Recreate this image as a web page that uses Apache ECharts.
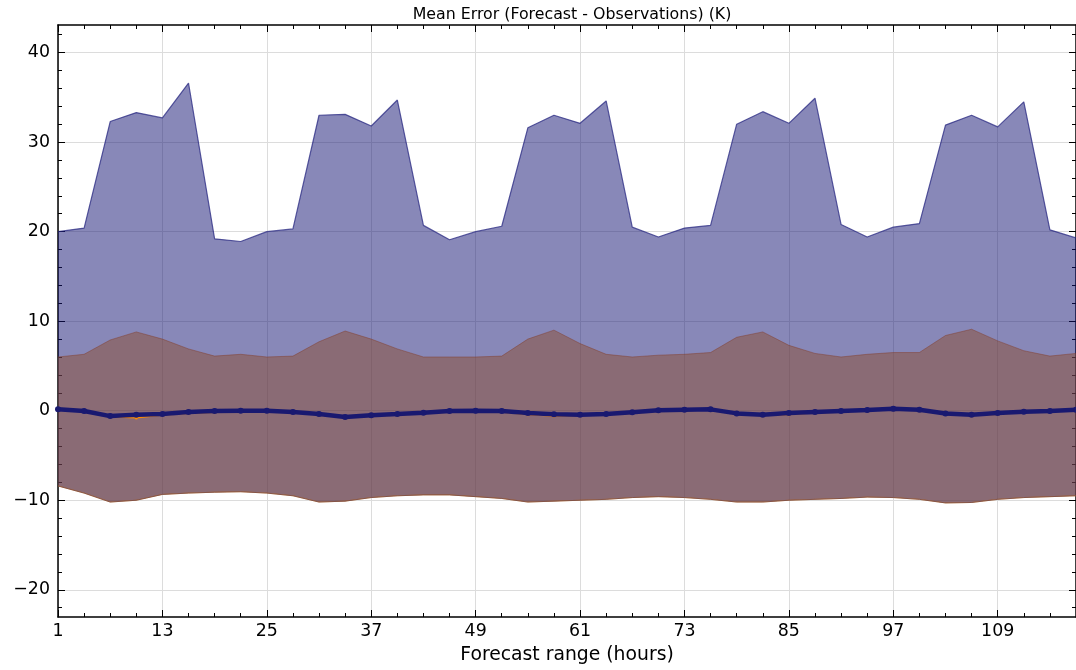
<!DOCTYPE html>
<html>
<head>
<meta charset="utf-8">
<script src="https://cdn.jsdelivr.net/npm/echarts@6/dist/echarts.min.js"></script>
<style>
html,body{margin:0;padding:0;background:#fff;}
#chart{width:1076px;height:670px;}
</style>
</head>
<body>
<div id="chart"></div>
<script>
// Forecast range (hours)
const hours = [1,4,7,10,13,16,19,22,25,28,31,34,37,40,43,46,49,52,55,58,61,64,67,70,73,76,79,82,85,88,91,94,97,100,103,106,109,112,115,118];
// Tick labels
const xTickLabels = [1,13,25,37,49,61,73,85,97,109];
const xMinorTicks = [1,4,7,10,13,16,19,22,25,28,31,34,37,40,43,46,49,52,55,58,61,64,67,70,73,76,79,82,85,88,91,94,97,100,103,106,109,112,115];
const yTickLabels = [-20,-10,0,10,20,30,40];
const yMinorTicks = [-22,-20,-18,-16,-14,-12,-10,-8,-6,-4,-2,0,2,4,6,8,10,12,14,16,18,20,22,24,26,28,30,32,34,36,38,40,42];
// Upper edge of the blue band
const blueUpper = [20.0,20.4,32.3,33.3,32.7,36.6,19.2,18.9,20.0,20.3,33.0,33.1,31.8,34.7,20.7,19.1,20.0,20.6,31.6,33.0,32.1,34.6,20.5,19.4,20.4,20.7,32.0,33.4,32.1,34.9,20.8,19.4,20.5,20.9,31.9,33.0,31.7,34.5,20.2,19.3];
// Upper edge of the red band
const redUpper = [6.0,6.3,7.9,8.8,8.0,6.9,6.1,6.3,6.0,6.1,7.7,8.9,8.0,6.9,6.0,6.0,6.0,6.1,8.0,9.0,7.5,6.3,6.0,6.2,6.3,6.5,8.2,8.8,7.3,6.4,6.0,6.3,6.5,6.5,8.4,9.1,7.8,6.7,6.1,6.4];
// Lower edge of both bands
const bandLower = [-8.4,-9.2,-10.2,-10.0,-9.35,-9.2,-9.1,-9.05,-9.2,-9.5,-10.2,-10.1,-9.7,-9.5,-9.4,-9.4,-9.6,-9.8,-10.2,-10.1,-10.0,-9.9,-9.7,-9.6,-9.7,-9.9,-10.2,-10.2,-10.0,-9.9,-9.8,-9.65,-9.7,-9.9,-10.3,-10.25,-9.9,-9.7,-9.6,-9.5];
// Mean error lines
const meanNavy = [0.15,-0.03,-0.6,-0.45,-0.37,-0.15,-0.03,0,0,-0.15,-0.37,-0.7,-0.5,-0.37,-0.22,-0.04,0,-0.04,-0.26,-0.4,-0.45,-0.37,-0.18,0.04,0.1,0.15,-0.3,-0.45,-0.26,-0.15,-0.04,0.07,0.22,0.1,-0.3,-0.45,-0.26,-0.11,-0.04,0.1];
const meanOrange = [0.1,-0.1,-0.7,-0.8,-0.5,-0.3,-0.2,-0.1,-0.1,-0.2,-0.5,-0.8,-0.6,-0.5,-0.3,-0.15,-0.1,-0.15,-0.45,-0.6,-0.55,-0.45,-0.3,-0.05,0.0,0.05,-0.4,-0.55,-0.45,-0.25,-0.15,0.0,0.1,0.0,-0.4,-0.55,-0.4,-0.2,-0.1,0.05];

const FONT = '"DejaVu Sans", sans-serif';
const pts = arr => hours.map((h, i) => [h, arr[i]]);
const fmtY = v => (v < 0 ? '\u2212' + Math.abs(v) : String(v));

const XMIN = 1, XMAX = 118, YMIN = -23.04, YMAX = 43.08;
const spine = {show: true, onZero: false, lineStyle: {color: '#000', width: 1.5}};
const noLine = {show: false, onZero: false};
const gridLine = {show: true, lineStyle: {color: '#dcdcdc', width: 1}};

function axis(kind, pos, ticks, len, labels, line) {
  const lo = kind === 'x' ? XMIN : YMIN, hi = kind === 'x' ? XMAX : YMAX;
  return {
    type: 'value', position: pos, min: lo, max: hi,
    axisLine: line ? spine : noLine,
    axisTick: {show: true, inside: true, length: len, customValues: ticks, lineStyle: {color: '#000', width: 1}},
    axisLabel: labels ? {
      show: true, margin: kind === 'x' ? 6 : 8, color: '#000', fontSize: 17.4, fontFamily: FONT,
      customValues: ticks,
      formatter: v => (kind === 'x' ? String(v) : fmtY(v))
    } : {show: false},
    splitLine: labels ? gridLine : {show: false}
  };
}

const xAxes = [
  Object.assign(axis('x', 'bottom', xTickLabels, 7, true, true), {
    name: 'Forecast range (hours)', nameLocation: 'middle', nameGap: 29,
    nameTextStyle: {color: '#000', fontSize: 18.8, fontFamily: FONT}
  }),
  axis('x', 'bottom', xMinorTicks, 4, false, false),
  axis('x', 'top', xTickLabels, 7, false, true),
  axis('x', 'top', xMinorTicks, 4, false, false)
];
const yAxes = [
  axis('y', 'left', yTickLabels, 7, true, true),
  axis('y', 'left', yMinorTicks, 4, false, false),
  axis('y', 'right', yTickLabels, 7, false, true),
  axis('y', 'right', yMinorTicks, 4, false, false)
];

function band(upper, lower, fill, z) {
  return {
    type: 'custom', silent: true, z: z, clip: true,
    data: [[hours[0], lower[0]]],
    renderItem: (params, api) => {
      const top = hours.map((h, i) => api.coord([h, upper[i]]));
      const bot = hours.map((h, i) => api.coord([h, lower[i]])).reverse();
      return {type: 'polygon', shape: {points: top.concat(bot)}, style: {fill: fill, stroke: null}};
    }
  };
}
function edge(arr, color, width, z) {
  return {type: 'line', data: pts(arr), symbol: 'none', silent: true,
          lineStyle: {color: color, width: width}, z: z};
}

const chart = echarts.init(document.getElementById('chart'), null, {renderer: 'canvas'});
chart.setOption({
  animation: false,
  backgroundColor: '#fff',
  title: {
    text: 'Mean Error (Forecast - Observations) (K)',
    left: 567, top: 2, textAlign: 'center',
    textStyle: {color: '#000', fontSize: 15.8, fontWeight: 'normal', fontFamily: FONT}
  },
  grid: {left: 58, top: 25, width: 1019, height: 594},
  xAxis: xAxes,
  yAxis: yAxes,
  series: [
    band(blueUpper, bandLower, 'rgba(17,17,113,0.5)', 2),
    band(redUpper, bandLower, 'rgba(140,78,50,0.5)', 3),
    edge(blueUpper, 'rgba(40,40,130,0.75)', 1.2, 4),
    edge(redUpper, 'rgba(130,60,40,0.45)', 1, 4),
    edge(bandLower, 'rgba(255,140,0,0.8)', 1, 4),
    edge(bandLower, 'rgba(25,25,112,0.5)', 1, 4),
    {type: 'line', data: pts(meanOrange), symbol: 'circle', symbolSize: 3,
     itemStyle: {color: '#ff8c00'}, lineStyle: {color: '#ff8c00', width: 1.2}, z: 5},
    {type: 'line', data: pts(meanNavy), symbol: 'circle', symbolSize: 6,
     itemStyle: {color: '#191970'}, lineStyle: {color: '#191970', width: 4.5}, z: 6}
  ]
});
</script>
</body>
</html>
